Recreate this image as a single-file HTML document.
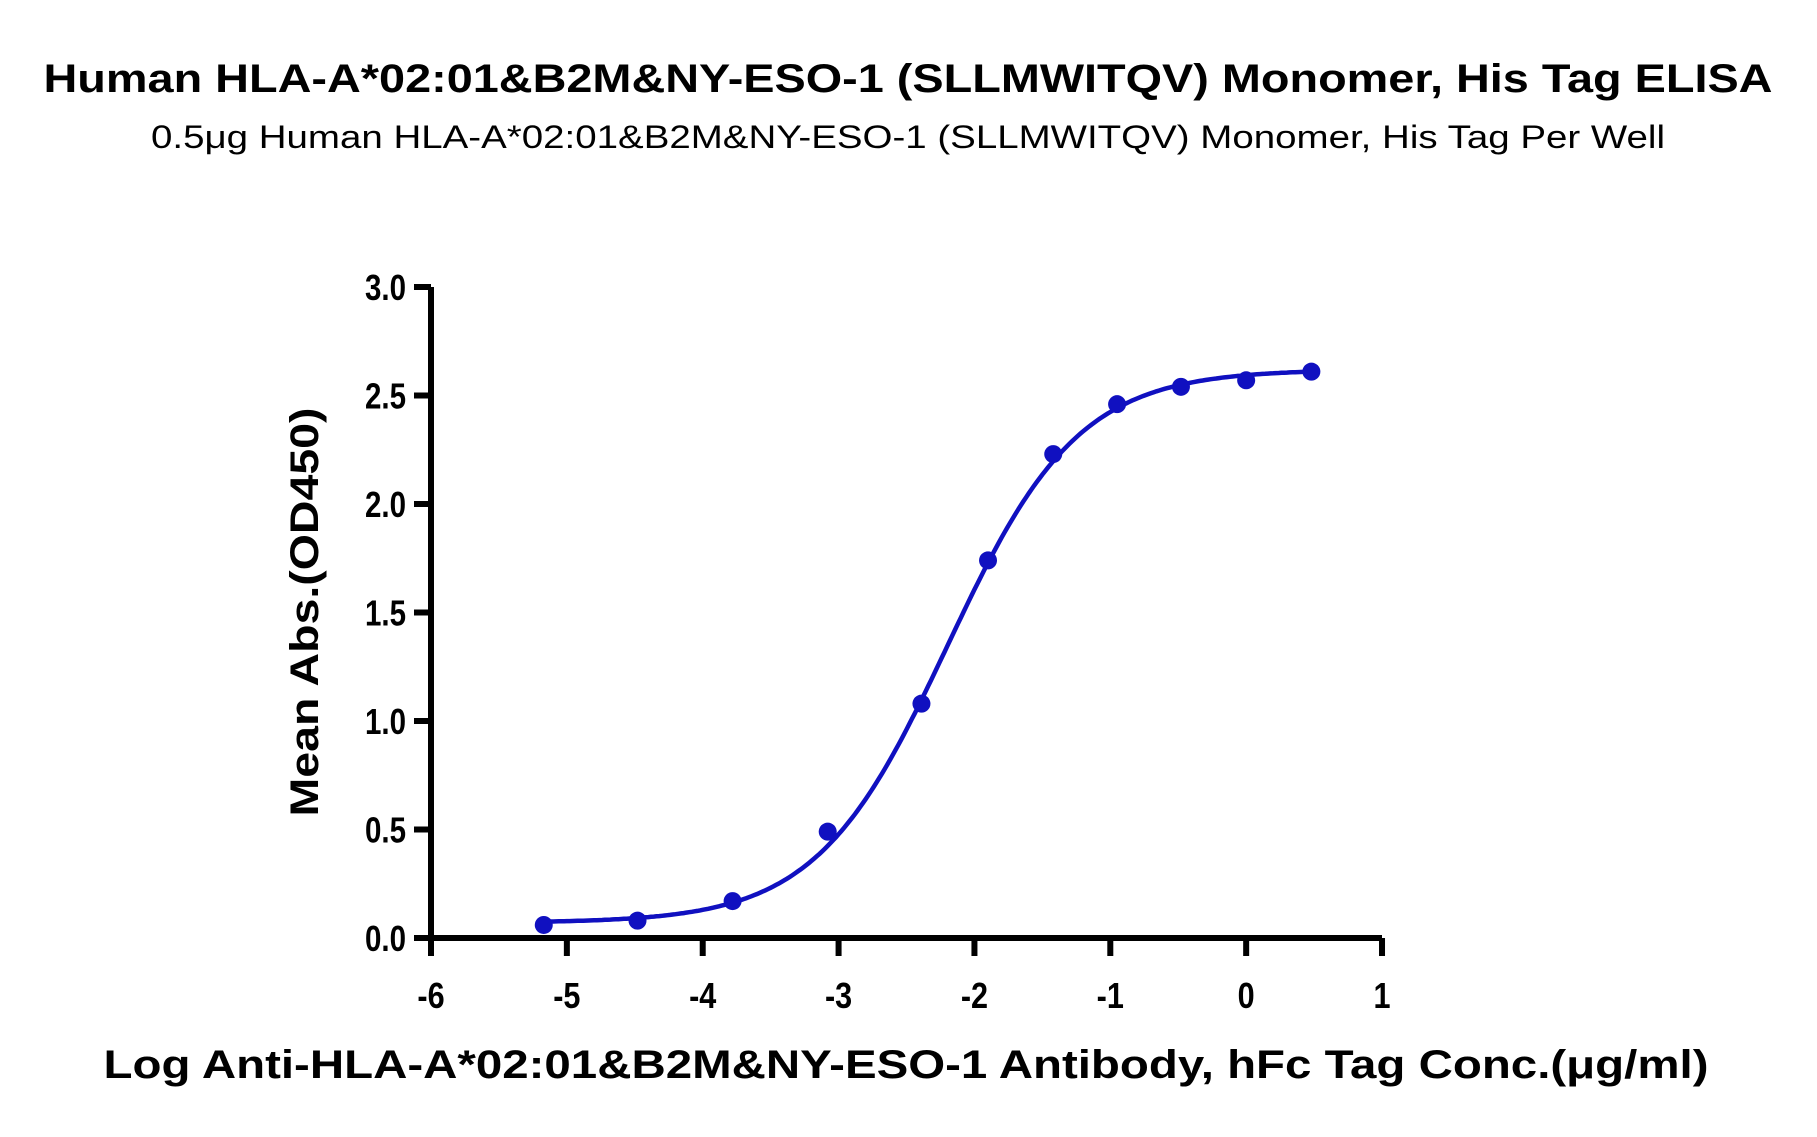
<!DOCTYPE html>
<html><head><meta charset="utf-8"><style>body{margin:0;background:#fff}svg{display:block}</style></head>
<body>
<svg id="s" width="1817" height="1137" xmlns="http://www.w3.org/2000/svg" font-family="Liberation Sans, sans-serif">
<text x="908" y="92" text-anchor="middle" font-size="40" font-weight="bold" textLength="1729" lengthAdjust="spacingAndGlyphs">Human HLA-A*02:01&amp;B2M&amp;NY-ESO-1 (SLLMWITQV) Monomer, His Tag ELISA</text>
<text x="908" y="148" text-anchor="middle" font-size="32" textLength="1514" lengthAdjust="spacingAndGlyphs">0.5μg Human HLA-A*02:01&amp;B2M&amp;NY-ESO-1 (SLLMWITQV) Monomer, His Tag Per Well</text>
<text x="906" y="1078" text-anchor="middle" font-size="40" font-weight="bold" textLength="1605" lengthAdjust="spacingAndGlyphs">Log Anti-HLA-A*02:01&amp;B2M&amp;NY-ESO-1 Antibody, hFc Tag Conc.(μg/ml)</text>
<text transform="translate(318,612) rotate(-90)" text-anchor="middle" font-size="40" font-weight="bold" textLength="409" lengthAdjust="spacingAndGlyphs">Mean Abs.(OD450)</text>
<g id="ax" stroke="#000" stroke-width="6" fill="none"></g>
<g id="lb" font-size="36" font-weight="bold"></g>
<path id="cv" fill="none" stroke="#1010c0" stroke-width="4.5"/>
<g id="pt" fill="#1010c0"></g>
</svg>
<script>
var X=u=>431+(u+6)*135.86, Y=v=>938-v*217, ns="http://www.w3.org/2000/svg";
function el(t,a,p,txt){var e=document.createElementNS(ns,t);for(var k in a)e.setAttribute(k,a[k]);if(txt!=null)e.textContent=txt;document.getElementById(p).appendChild(e);}
var d="M431,287 L431,938 L1382,938";
for(var i=0;i<=6;i++){var y=Y(i*0.5);d+=" M414,"+y+" L431,"+y;el("text",{x:406,y:y+13,"text-anchor":"end",transform:"translate(406,0) scale(0.82,1) translate(-406,0)"},"lb",(i*0.5).toFixed(1));}
for(var u=-6;u<=1;u++){var x=X(u);d+=" M"+x+",938 L"+x+",956";el("text",{x:x,y:1008,"text-anchor":"middle",transform:"translate("+x+",0) scale(0.85,1) translate("+(-x)+",0)"},"lb",String(u));}
el("path",{d:d},"ax");
var f=u=>0.07+2.55/(1+Math.pow(10,0.9*(-2.2-u)));
var p="";for(var u=-5.2;u<=0.49;u+=0.02)p+=(p?"L":"M")+X(u).toFixed(1)+","+Y(f(u)).toFixed(1);
document.getElementById("cv").setAttribute("d",p);
var pts=[[-5.17,0.06],[-4.48,0.08],[-3.78,0.17],[-3.08,0.49],[-2.39,1.08],[-1.9,1.74],[-1.42,2.23],[-0.95,2.46],[-0.48,2.54],[0,2.57],[0.48,2.61]];
pts.forEach(q=>el("circle",{cx:X(q[0]),cy:Y(q[1]),r:9},"pt"));
</script>
</body></html>
